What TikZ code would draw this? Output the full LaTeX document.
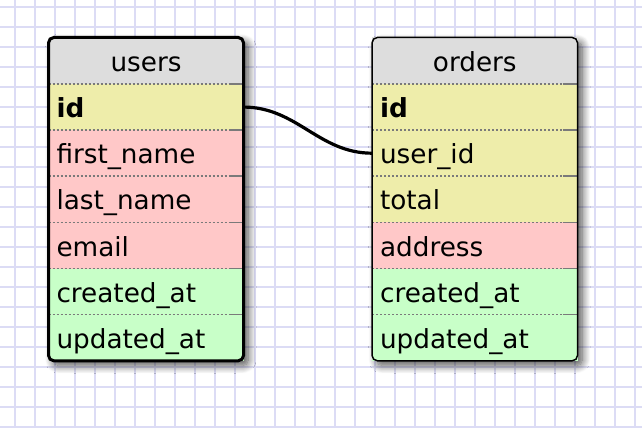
\documentclass[tikz,border=0pt]{standalone}
\usepackage{fontspec}
\setmainfont{DejaVu Sans}
\definecolor{GridLilac}{HTML}{DCDCF5}
\definecolor{HeadGray}{HTML}{DDDDDD}
\definecolor{KeyYellow}{HTML}{EEEDAA}
\definecolor{FieldPink}{HTML}{FFC8C8}
\definecolor{StampGreen}{HTML}{C8FFC8}
\definecolor{RuleGray}{HTML}{7A7A7A}
\usetikzlibrary{positioning, fit, backgrounds, calc, shadows.blur}
\tikzset{
  cell/.style={rectangle, outer sep=0pt, inner xsep=6pt, inner ysep=0pt, minimum height=34.6pt, text height=16.5pt, text depth=0.7pt, font=\fontsize{19.7pt}{22pt}\selectfont, align=left},
  headcell/.style={cell, fill=HeadGray, minimum height=34.9pt, align=center},
  keycell/.style={cell, fill=KeyYellow},
  fieldcell/.style={cell, fill=FieldPink},
  stampcell/.style={cell, fill=StampGreen},
  userscol/.style={text width=134.25pt},
  orderscol/.style={text width=142.1pt},
  tableshadow/.style={rectangle, rounded corners=4pt, inner sep=0pt, fill=white, blur shadow={shadow xshift=3.5pt, shadow yshift=-3.5pt, shadow blur radius=6pt, shadow blur steps=12, shadow opacity=70}},
  tableframe/.style={rectangle, rounded corners=4pt, inner sep=0pt, draw=black},
  rowrule/.style={RuleGray, line width=1.2pt, dash pattern=on 1.5pt off 1.5pt},
  rowruleend/.style={RuleGray, line width=1.2pt},
  gridline/.style={GridLilac, line width=1.1pt},
  link/.style={black, line width=2.4pt}
}
\begin{document}
\begin{tikzpicture}
  \useasboundingbox (0,0) rectangle (481.5pt,-321pt);
  % grid paper
  \begin{scope}[on background layer]
    \foreach \gx in {0,...,31} \draw[gridline] (11.25pt+\gx*15pt,0) -- ++(0,-321pt);
    \foreach \gy in {0,...,21} \draw[gridline] (0,-5.25pt-\gy*15pt) -- ++(481.5pt,0);
  \end{scope}

  % users
  \node[headcell, userscol, anchor=north west] (uhead) at (36.4pt,-28.1pt) {users};
  \node[keycell, userscol, below=0pt of uhead] (u1) {\textbf{id}};
  \node[fieldcell, userscol, below=0pt of u1] (u2) {first\_name};
  \node[fieldcell, userscol, below=0pt of u2] (u3) {last\_name};
  \node[fieldcell, userscol, below=0pt of u3] (u4) {email};
  \node[stampcell, userscol, below=0pt of u4] (u5) {created\_at};
  \node[stampcell, userscol, below=0pt of u5] (u6) {updated\_at};

  % orders
  \node[headcell, orderscol, right=96.4pt of uhead] (ohead) {orders};
  \node[keycell, orderscol, below=0pt of ohead] (o1) {\textbf{id}};
  \node[keycell, orderscol, below=0pt of o1] (o2) {user\_id};
  \node[keycell, orderscol, below=0pt of o2] (o3) {total};
  \node[fieldcell, orderscol, below=0pt of o3] (o4) {address};
  \node[stampcell, orderscol, below=0pt of o4] (o5) {created\_at};
  \node[stampcell, orderscol, below=0pt of o5] (o6) {updated\_at};

  % row rules
  \foreach \row in {uhead,u1,u2,u3,u4,u5,ohead,o1,o2,o3,o4,o5} {
    \draw[rowrule] (\row.south west) -- ($(\row.south east)+(-11.25pt,0)$);
    \draw[rowruleend] ($(\row.south east)+(-11.25pt,0)$) -- (\row.south east);
  }

  % frames and shadows
  \begin{scope}[on background layer]
    \node[tableshadow, fit=(uhead)(u6)] (ushadow) {};
    \node[tableshadow, fit=(ohead)(o6)] (oshadow) {};
  \end{scope}
  \node[tableframe, line width=2.25pt, fit=(uhead)(u6)] (uframe) {};
  \node[tableframe, line width=1.1pt, fit=(ohead)(o6)] (oframe) {};

  \draw[link] (u1.east) .. controls +(40pt,0) and +(-40pt,0) .. (o2.west);
\end{tikzpicture}
\end{document}
